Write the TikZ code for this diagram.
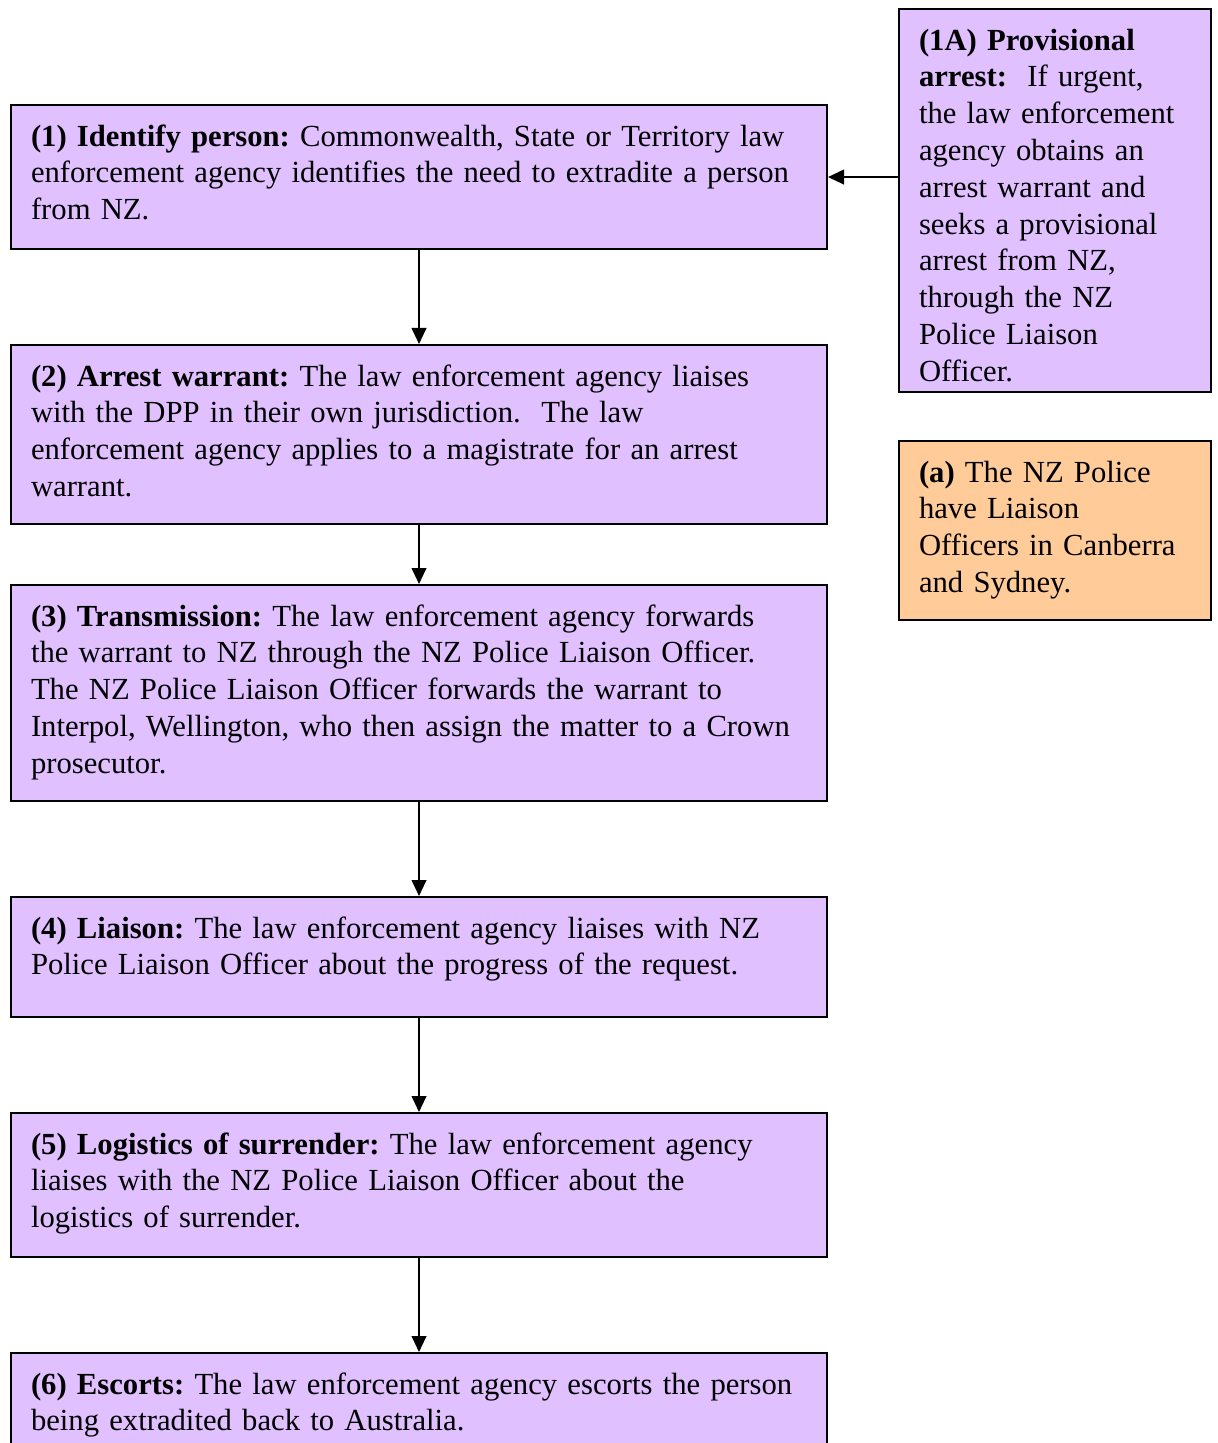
\documentclass[tikz,border=0pt]{standalone}
\usepackage{fontspec}
\setmainfont{Liberation Serif}
\usepackage{xcolor}
\usetikzlibrary{arrows.meta, positioning}
\definecolor{StepLilac}{HTML}{E0C0FF}
\definecolor{NoteApricot}{HTML}{FFCC99}
\frenchspacing
\hyphenpenalty=10000

\begin{document}
\begin{tikzpicture}[x=0.375pt, y=-0.375pt,
  stepbox/.style={draw, line width=0.75pt, fill=StepLilac, anchor=north west,
    inner xsep=7.5pt, inner ysep=0pt, text width=291pt, align=left,
    text height=15.4pt, font=\fontsize{11.5}{13.8}\selectfont},
  sidebox/.style={stepbox, text width=102pt},
  flow/.style={-{Triangle[length=6pt, width=5.5pt]}, line width=0.75pt}]
  \useasboundingbox (0,0) rectangle (1217,1443);
  % main chain of steps
  \node[stepbox, text depth=38.625pt] (step1) at (10,104)
    {\textbf{(1) Identify person:} Commonwealth, State or Territory law\\
     enforcement agency identifies the need to extradite a person\\
     from NZ.};
  \node[stepbox, text depth=51.75pt] (step2) at (10,344)
    {\textbf{(2) Arrest warrant:} The law enforcement agency liaises\\
     with the DPP in their own jurisdiction.\ \ The law\\
     enforcement agency applies to a magistrate for an arrest\\
     warrant.};
  \node[stepbox, text depth=65.625pt] (step3) at (10,584)
    {\textbf{(3) Transmission:} The law enforcement agency forwards\\
     the warrant to NZ through the NZ Police Liaison Officer.\\
     The NZ Police Liaison Officer forwards the warrant to\\
     Interpol, Wellington, who then assign the matter to a Crown\\
     prosecutor.};
  \node[stepbox, text depth=29.625pt] (step4) at (10,896)
    {\textbf{(4) Liaison:} The law enforcement agency liaises with NZ\\
     Police Liaison Officer about the progress of the request.};
  \node[stepbox, text depth=38.625pt] (step5) at (10,1112)
    {\textbf{(5) Logistics of surrender:} The law enforcement agency\\
     liaises with the NZ Police Liaison Officer about the\\
     logistics of surrender.};
  \node[stepbox, text depth=37.125pt] (step6) at (10,1352)
    {\textbf{(6) Escorts:} The law enforcement agency escorts the person\\
     being extradited back to Australia.};
  % side boxes
  \node[sidebox, text depth=128.25pt] (prov) at (898,8)
    {\textbf{(1A) Provisional}\\
     \textbf{arrest:}\ \ If urgent,\\
     the law enforcement\\
     agency obtains an\\
     arrest warrant and\\
     seeks a provisional\\
     arrest from NZ,\\
     through the NZ\\
     Police Liaison\\
     Officer.};
  \node[sidebox, fill=NoteApricot, text depth=51.75pt] (note) at (898,440)
    {\textbf{(a)} The NZ Police\\
     have Liaison\\
     Officers in Canberra\\
     and Sydney.};
  % connectors
  \draw[flow] (step1) -- (step2);
  \draw[flow] (step2) -- (step3);
  \draw[flow] (step3) -- (step4);
  \draw[flow] (step4) -- (step5);
  \draw[flow] (step5) -- (step6);
  \draw[flow] (prov.west |- step1.east) -- (step1.east);
\end{tikzpicture}
\end{document}
